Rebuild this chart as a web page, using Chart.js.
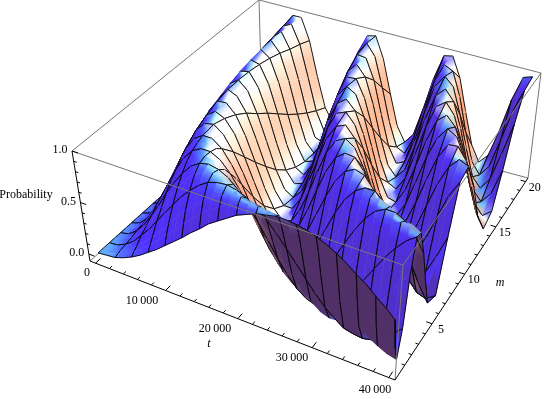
<!DOCTYPE html>
<html>
<head>
<meta charset="utf-8">
<script src="https://cdn.jsdelivr.net/npm/chart.js@4"></script>
<style>
    html, body { margin: 0; padding: 0; background: #fff; }
    canvas { display: block; }
</style>
</head>
<body>
<canvas id="surface" width="544" height="399"></canvas>
<script>
// ===== DATA =====
const tValues = [0, 1250, 2500, 3750, 5000, 6250, 7500, 8750, 10000, 11250, 12500, 13750, 15000, 16250, 17500, 18750, 20000,
    21250, 22500, 23750, 25000, 26250, 27500, 28750, 30000, 31250, 32500, 33750, 35000, 36250, 37500, 38750, 40000];
const mValues = [0, 0.3, 0.625, 1.25, 1.875, 2.5, 3.125, 3.75, 4.375, 5, 6.25, 7.5, 8.75, 10, 11.25, 12.5, 13.75, 15, 16.25, 17.5, 18.75, 20];
// mesh lines of constant m
const mMeshRows = [0, 1.25, 2.5, 3.75, 5, 6.25, 7.5, 8.75, 10, 11.25, 12.5, 13.75, 15, 16.25, 17.5, 18.75, 20];

// probability in percent, one row per m value, one column per t value
const probability = [
    [0,1,2,5,9,14,20,26,33,40,47,55,62,70,76,82,88,92,96,98,100,100,99,97,94,90,85,79,72,66,58,51,43],
    [0,1,3,7,12,18,25,33,41,49,58,66,74,81,87,93,97,99,100,99,98,94,89,84,77,69,61,52,44,35,27,20,14],
    [0,1,4,8,14,22,30,39,49,58,68,76,84,91,95,99,100,99,97,93,87,80,72,63,54,44,35,26,18,11,6,2,0],
    [0,1,5,11,20,29,40,51,62,73,82,90,96,99,100,98,94,87,79,69,58,47,36,25,16,9,3,1,0,2,7,14,23],
    [0,2,6,14,24,36,48,61,73,84,92,98,100,99,95,88,78,67,54,41,29,18,10,3,0,1,4,10,19,30,42,56,68],
    [0,2,8,17,29,42,57,70,82,92,98,100,98,93,84,72,59,45,31,19,9,3,0,1,7,15,27,40,54,68,80,90,97],
    [0,2,9,20,33,48,64,77,89,97,100,98,93,83,69,55,40,25,13,5,0,1,6,15,28,42,57,72,85,94,99,100,95],
    [0,3,10,23,38,54,70,84,94,99,99,94,84,70,55,38,23,11,3,0,3,10,23,38,54,70,84,94,99,99,94,84,70],
    [0,3,12,25,42,59,76,89,97,100,97,88,74,57,40,24,11,2,0,4,13,27,44,61,77,90,98,100,96,86,72,55,38],
    [0,3,13,28,46,64,81,93,99,99,92,79,63,44,27,12,3,0,4,14,29,47,66,82,93,99,99,91,78,61,43,25,11],
    [0,4,16,33,53,73,89,98,100,93,79,61,41,22,8,1,2,10,26,45,65,83,95,100,97,86,69,48,29,13,3,0,6],
    [0,5,19,38,60,80,94,100,96,84,64,42,22,7,0,3,15,33,55,76,92,99,98,87,69,47,26,10,1,2,11,29,50],
    [0,5,21,42,66,86,98,99,90,72,49,26,9,0,3,16,36,59,81,95,100,94,77,55,33,13,2,1,11,30,53,76,92],
    [0,6,23,47,71,90,100,96,82,59,35,14,2,2,14,35,59,82,96,100,90,71,47,23,6,0,6,23,47,71,90,100,96],
    [0,7,26,51,76,94,100,92,72,47,22,5,0,9,29,55,79,96,100,90,69,43,19,3,1,12,33,59,83,98,99,87,65],
    [0,8,28,55,81,97,99,86,63,35,12,1,4,21,47,74,93,100,91,70,43,18,2,1,15,40,67,88,100,95,77,51,24],
    [0,8,30,59,84,99,97,80,53,25,5,0,12,36,65,89,100,95,75,47,20,3,1,16,42,70,92,100,91,69,41,15,1],
    [0,9,33,62,88,100,94,72,43,16,1,4,23,52,79,97,98,81,54,25,5,1,14,41,70,93,100,89,65,35,10,0,7],
    [0,10,35,66,91,100,90,65,34,9,0,10,35,66,91,100,90,65,34,9,0,10,35,66,91,100,90,65,34,9,0,11,36],
    [0,10,37,68,93,100,85,57,26,4,1,19,48,79,98,97,77,45,16,1,5,28,60,88,100,92,66,35,9,0,12,40,71],
    [0,11,39,72,95,99,81,50,19,1,5,29,61,89,100,89,60,28,5,1,19,51,81,99,95,71,38,11,0,11,40,72,95],
    [0,11,41,75,97,97,76,42,13,0,11,40,73,96,98,77,44,14,0,10,38,71,96,98,78,45,15,0,9,36,70,95,98]
];

const tMajorTicks = [0, 10000, 20000, 30000, 40000];
const tMinorTicks = [2000, 4000, 6000, 8000, 12000, 14000, 16000, 18000, 22000, 24000, 26000, 28000, 32000, 34000, 36000, 38000];
const mMajorTicks = [5, 10, 15, 20];
const mMinorTicks = [1, 2, 3, 4, 6, 7, 8, 9, 11, 12, 13, 14, 16, 17, 18, 19];
const zMajorTicks = [0, 0.5, 1];
const zMinorTicks = [0.1, 0.2, 0.3, 0.4, 0.6, 0.7, 0.8, 0.9];
const tTickLabels = ["0", "10\u2009000", "20\u2009000", "30\u2009000", "40\u2009000"];
const mTickLabels = ["5", "10", "15", "20"];
const zTickLabels = ["0.0", "0.5", "1.0"];

// ===== BOX =====
const tMin = -800, tMax = 40800, mMin = -0.4, mMax = 20.4, zMin = -0.068, zMax = 1;

// screen corners of the plot box, bottom then top
const cornerA = [90, 261], cornerB = [395, 380], cornerC = [528, 178], cornerD = [262, 107];
const cornerA2 = [72, 151], cornerB2 = [403, 265], cornerC2 = [541, 73], cornerD2 = [259, 0];

function warp(u, a) {
    return a * u / (1 + (a - 1) * u);
}

function project(t, m, z) {
    const u = warp((t - tMin) / (tMax - tMin), 0.94);
    const v = warp((m - mMin) / (mMax - mMin), 1.1);
    const w = (z - zMin) / (zMax - zMin);
    const out = [0, 1].map(k => {
        const low = (1 - v) * ((1 - u) * cornerA[k] + u * cornerB[k]) + v * ((1 - u) * cornerD[k] + u * cornerC[k]);
        const high = (1 - v) * ((1 - u) * cornerA2[k] + u * cornerB2[k]) + v * ((1 - u) * cornerD2[k] + u * cornerC2[k]);
        return (1 - w) * low + w * high;
    });
    return { x: out[0], y: out[1] };
}

// ===== LIGHTING =====
// axis directions on screen (x right, y up, z toward the viewer)
const axisT = [0.879, -0.343, 0.33];
const axisM = [0.383, 0.582, -0.717];
const axisZ = [-0.035, 0.79, 0.61];
const ambient = [0.312, 0.188, 0.4];
const redDir = [1, -0.2, 0.6], greenDir = [1.5, 1.5, 2], blueDir = [-0.5, 1.5, 2], shineDir = [0.5, 0.3, 0.8];

function norm(a) {
    const len = Math.hypot(a[0], a[1], a[2]);
    return a.map(c => c / len);
}
function dot(a, b) {
    return a[0] * b[0] + a[1] * b[1] + a[2] * b[2];
}

function shade(dzdu, dzdv) {
    const a = -0.4 * dzdu, b = -0.4 * dzdv;
    const n = norm([0, 1, 2].map(k => a * axisT[k] + b * axisM[k] + axisZ[k]));
    // faces turned away from the lights stay at the ambient colour
    const lit = Math.max(0, Math.min(1, (n[2] + 0.35) / 0.35));
    const red = lit * Math.max(0, dot(n, norm(redDir)) - 0.1) / 0.9;
    const green = lit * Math.max(0, dot(n, norm(greenDir)) - 0.15) / 0.85;
    const blue = Math.max(0, dot(n, norm(blueDir)));
    const shine = lit * 1.3 * Math.pow(Math.max(0, dot(n, norm(shineDir))), 6);
    return [
        Math.min(1, ambient[0] + 0.8 * red + shine),
        Math.min(1, ambient[1] + 0.6 * green + shine),
        Math.min(1, ambient[2] + 0.8 * blue + shine)
    ];
}

function css(col) {
    return "rgb(" + col.map(c => Math.round(c * 255)).join(",") + ")";
}
function mix(a, b) {
    return a.map((c, k) => (c + b[k]) / 2);
}
function colorGap(a, b) {
    return Math.abs(a[0] - b[0]) + Math.abs(a[1] - b[1]) + Math.abs(a[2] - b[2]);
}

function zAt(i, j) {
    return probability[i][j] / 100;
}

// colour at a grid corner, slopes from the neighbouring table values
function cornerColor(i, j) {
    const j0 = Math.max(0, j - 1), j1 = Math.min(tValues.length - 1, j + 1);
    const i0 = Math.max(0, i - 1), i1 = Math.min(mValues.length - 1, i + 1);
    const dzdu = (zAt(i, j1) - zAt(i, j0)) / ((tValues[j1] - tValues[j0]) / (tMax - tMin));
    let dzdv = (zAt(i1, j) - zAt(i0, j)) / ((mValues[i1] - mValues[i0]) / (mMax - mMin));
    // along the fold the steep near side decides the colour
    if (i > 0) {
        const nearSide = (zAt(i, j) - zAt(i0, j)) / ((mValues[i] - mValues[i0]) / (mMax - mMin));
        if (nearSide < -4) dzdv = nearSide;
    }
    return shade(dzdu, dzdv);
}

// ===== BUILD DATASETS =====
const ctx = document.getElementById("surface").getContext("2d");
const datasets = [];

function addLine(points, color, width) {
    datasets.push({
        data: points, showLine: true, pointRadius: 0, fill: false,
        borderColor: color, borderWidth: width, clip: false
    });
}

function boxEdge(a, b) {
    return [project(a[0], a[1], a[2]), project(b[0], b[1], b[2])];
}

function quadPaint(i, j, p00, p01, p10, p11) {
    const du = (tValues[j + 1] - tValues[j]) / (tMax - tMin);
    const dv = (mValues[i + 1] - mValues[i]) / (mMax - mMin);
    const flat = shade((zAt(i, j + 1) + zAt(i + 1, j + 1) - zAt(i, j) - zAt(i + 1, j)) / 2 / du,
        (zAt(i + 1, j) + zAt(i + 1, j + 1) - zAt(i, j) - zAt(i, j + 1)) / 2 / dv);
    const c00 = cornerColor(i, j), c01 = cornerColor(i, j + 1), c10 = cornerColor(i + 1, j), c11 = cornerColor(i + 1, j + 1);

    const alongT = colorGap(mix(c00, c10), mix(c01, c11)) >= colorGap(mix(c00, c01), mix(c10, c11));
    const from = alongT ? [p00, p10] : [p00, p01];
    const to = alongT ? [p01, p11] : [p10, p11];
    const c0 = alongT ? mix(c00, c10) : mix(c00, c01);
    const c1 = alongT ? mix(c01, c11) : mix(c10, c11);
    const x0 = (from[0].x + from[1].x) / 2, y0 = (from[0].y + from[1].y) / 2;
    const x1 = (to[0].x + to[1].x) / 2, y1 = (to[0].y + to[1].y) / 2;
    if (Math.hypot(x1 - x0, y1 - y0) < 0.5) return css(flat);

    const g = ctx.createLinearGradient(x0, y0, x1, y1);
    g.addColorStop(0, css(c0));
    g.addColorStop(0.5, css(flat));
    g.addColorStop(1, css(c1));
    return g;
}

const boxGray = "#777";
// back edges first, the surface covers them
addLine(boxEdge([tMin, mMax, zMin], [tMin, mMax, zMax]), boxGray, 1);
addLine(boxEdge([tMin, mMin, zMin], [tMin, mMax, zMin]), boxGray, 1);
addLine(boxEdge([tMin, mMax, zMin], [tMax, mMax, zMin]), boxGray, 1);
addLine(boxEdge([tMin, mMin, zMax], [tMin, mMax, zMax]), boxGray, 1);
addLine(boxEdge([tMin, mMax, zMax], [tMax, mMax, zMax]), boxGray, 1);

// far to near: high m first, low t first
for (let i = mValues.length - 2; i >= 0; i--) {
    for (let j = 0; j < tValues.length - 1; j++) {
        const p00 = project(tValues[j], mValues[i], zAt(i, j));
        const p01 = project(tValues[j + 1], mValues[i], zAt(i, j + 1));
        const p10 = project(tValues[j], mValues[i + 1], zAt(i + 1, j));
        const p11 = project(tValues[j + 1], mValues[i + 1], zAt(i + 1, j + 1));
        const paint = quadPaint(i, j, p00, p01, p10, p11);

        datasets.push({
            data: [p00, p01, p11, p10, p00], showLine: true, pointRadius: 0,
            fill: "shape", backgroundColor: paint, borderColor: paint, borderWidth: 0.6, clip: false
        });

        const gap = { x: NaN, y: NaN };
        const mesh = [];
        if (mMeshRows.includes(mValues[i])) mesh.push(p00, p01, gap);
        if (mMeshRows.includes(mValues[i + 1])) mesh.push(p10, p11, gap);
        if (j % 2 === 0) mesh.push(p00, p10);
        if (j % 2 === 1) mesh.push(p01, p11);
        addLine(mesh, "#000", 0.9);
    }
}

// front edges and axes on top
addLine(boxEdge([tMax, mMin, zMin], [tMax, mMin, zMax]), boxGray, 1);
addLine(boxEdge([tMin, mMin, zMax], [tMax, mMin, zMax]), boxGray, 1);
addLine(boxEdge([tMax, mMin, zMax], [tMax, mMax, zMax]), boxGray, 1);
addLine(boxEdge([tMax, mMax, zMin], [tMax, mMax, zMax]), boxGray, 1);
addLine(boxEdge([tMin, mMin, zMin], [tMax, mMin, zMin]), "#000", 1);
addLine(boxEdge([tMax, mMin, zMin], [tMax, mMax, zMin]), "#000", 1);
addLine(boxEdge([tMin, mMin, zMin], [tMin, mMin, zMax]), "#000", 1);

tMajorTicks.forEach(t => addLine(boxEdge([t, mMin, zMin], [t, mMin + 0.55, zMin]), "#000", 1));
tMinorTicks.forEach(t => addLine(boxEdge([t, mMin, zMin], [t, mMin + 0.3, zMin]), "#000", 1));
mMajorTicks.forEach(m => addLine(boxEdge([tMax, m, zMin], [tMax - 750, m, zMin]), "#000", 1));
mMinorTicks.forEach(m => addLine(boxEdge([tMax, m, zMin], [tMax - 400, m, zMin]), "#000", 1));
zMajorTicks.forEach(z => addLine(boxEdge([tMin, mMin, z], [tMin + 800, mMin, z]), "#000", 1));
zMinorTicks.forEach(z => addLine(boxEdge([tMin, mMin, z], [tMin + 400, mMin, z]), "#000", 1));

// earlier entries must be painted first
datasets.forEach((d, index) => { d.order = -index; });

// ===== TEXT =====
const axisText = {
    id: "axisText",
    afterDraw(chart) {
        const c = chart.ctx;
        c.save();
        c.fillStyle = "#000";
        c.textAlign = "center";
        c.textBaseline = "middle";
        c.font = "12px 'Liberation Serif'";
        const tLabelX = [87, 142, 215, 292, 375];
        const tLabelY = [273, 301, 329, 358, 390];
        tTickLabels.forEach((label, k) => c.fillText(label, tLabelX[k], tLabelY[k]));
        mMajorTicks.forEach((m, k) => {
            const p = project(tMax, m, zMin);
            c.fillText(mTickLabels[k], p.x + 9, p.y + 6);
        });
        zMajorTicks.forEach((z, k) => {
            const p = project(tMin, mMin, z);
            c.fillText(zTickLabels[k], p.x - 12, p.y - 1);
        });
        c.fillText("Probability", 26, 195);
        c.font = "italic 12px 'Liberation Serif'";
        c.fillText("t", 209, 344);
        c.fillText("m", 500, 283);
        c.restore();
    }
};

// ===== CHART =====
new Chart(ctx, {
    type: "scatter",
    data: { datasets: datasets },
    plugins: [axisText],
    options: {
        responsive: false,
        animation: false,
        events: [],
        layout: { padding: 0 },
        elements: { line: { tension: 0 } },
        plugins: { legend: { display: false }, tooltip: { enabled: false } },
        scales: {
            x: { type: "linear", display: false, min: 0, max: 544 },
            y: { type: "linear", display: false, min: 0, max: 399, reverse: true }
        }
    }
});
</script>
</body>
</html>
